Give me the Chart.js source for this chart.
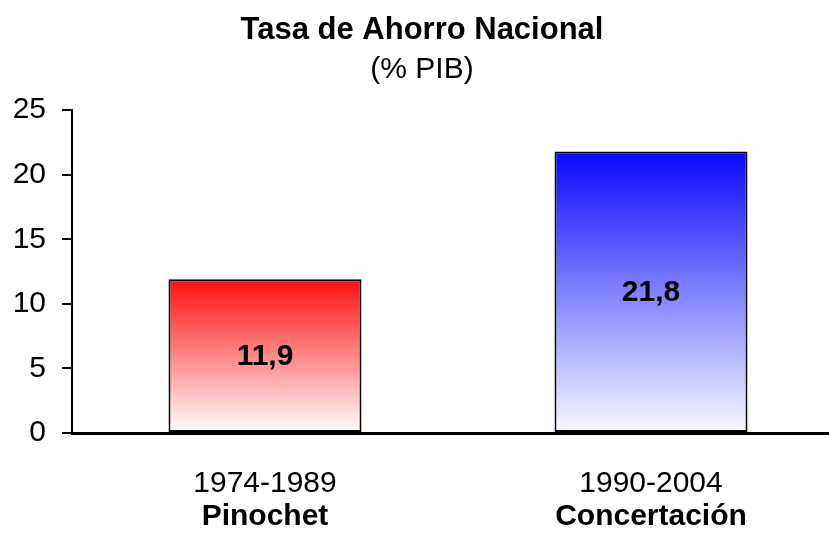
<!DOCTYPE html>
<html>
<head>
<meta charset="utf-8">
<script src="https://cdn.jsdelivr.net/npm/chart.js@4.4.0/dist/chart.umd.min.js"></script>
<style>
  html, body { margin: 0; padding: 0; background: #fff; overflow: hidden; }
  #wrap { width: 829px; height: 536px; overflow: hidden; position: relative; }
  #c { position: absolute; left: 0; top: 0; }
</style>
</head>
<body>
<div id="wrap"><canvas id="c" width="845" height="536"></canvas></div>
<script>
const categories = ['1974-1989', '1990-2004'];
const groups = ['Pinochet', 'Concertación'];
const values = [11.9, 21.8];
const valueLabels = ['11,9', '21,8'];
const yTicks = [0, 5, 10, 15, 20, 25];
const titleText = 'Tasa de Ahorro Nacional';
const subtitleText = '(% PIB)';

const FONT = "'Liberation Sans', Arial, sans-serif";
const topColors = ['rgb(255,16,16)', 'rgb(8,8,255)'];
const bottomColors = ['rgb(255,255,255)', 'rgb(250,250,255)'];

function barGradient(ctx) {
  const chart = ctx.chart;
  const area = chart.chartArea;
  if (!area) return topColors[ctx.dataIndex];
  const y = chart.scales.y;
  const top = y.getPixelForValue(values[ctx.dataIndex]);
  const bottom = y.getPixelForValue(0);
  const g = chart.ctx.createLinearGradient(0, top, 0, bottom);
  g.addColorStop(0, topColors[ctx.dataIndex]);
  g.addColorStop(1, bottomColors[ctx.dataIndex]);
  return g;
}

const valueLabelPlugin = {
  id: 'valueLabels',
  afterDatasetsDraw(chart) {
    const meta = chart.getDatasetMeta(0);
    const c = chart.ctx;
    c.save();
    c.font = "bold 30px " + FONT;
    c.fillStyle = '#000';
    c.textAlign = 'center';
    c.textBaseline = 'middle';
    meta.data.forEach((bar, i) => {
      c.fillText(valueLabels[i], bar.x, (bar.y + bar.base) / 2 + 1);
    });
    c.restore();
  }
};

new Chart(document.getElementById('c'), {
  type: 'bar',
  data: {
    labels: categories,
    datasets: [{
      data: values,
      backgroundColor: barGradient,
      borderColor: '#000',
      borderWidth: 2,
      borderSkipped: false,
      barPercentage: 1,
      categoryPercentage: 0.5,
      xAxisID: 'x',
      yAxisID: 'y'
    }]
  },
  options: {
    responsive: false,
    animation: false,
    devicePixelRatio: 1,
    layout: { padding: { left: 0, right: 1, top: 0, bottom: 0 } },
    plugins: {
      legend: { display: false },
      tooltip: { enabled: false },
      title: {
        display: true,
        text: titleText,
        color: '#000',
        font: { family: FONT, size: 31, weight: 'bold', lineHeight: 1.2 },
        padding: { top: 12, bottom: 2 }
      },
      subtitle: {
        display: true,
        text: subtitleText,
        color: '#000',
        font: { family: FONT, size: 30, weight: 'normal', lineHeight: 1.2 },
        padding: { top: 1, bottom: 22 }
      }
    },
    scales: {
      y: {
        min: 0,
        max: 25,
        afterBuildTicks(scale) { scale.ticks = yTicks.map(v => ({ value: v })); },
        afterFit(scale) { scale.width = 72; },
        ticks: {
          color: '#000',
          font: { family: FONT, size: 30 },
          padding: 16
        },
        grid: {
          display: true,
          drawOnChartArea: false,
          drawTicks: true,
          tickLength: 10,
          color: '#000',
          lineWidth: 2
        },
        border: { display: true, color: '#000', width: 2 }
      },
      x: {
        type: 'category',
        position: 'bottom',
        weight: 1,
        offset: true,
        afterFit(scale) { scale.height = 65; },
        ticks: {
          color: '#000',
          font: { family: FONT, size: 30 },
          padding: 33,
          maxRotation: 0
        },
        grid: { display: false, drawTicks: false },
        border: { display: true, color: '#000', width: 3 }
      },
      x2: {
        type: 'category',
        position: 'bottom',
        weight: 2,
        offset: true,
        labels: groups,
        afterFit(scale) { scale.height = 38; },
        ticks: {
          color: '#000',
          font: { family: FONT, size: 30, weight: 'bold' },
          padding: 1,
          maxRotation: 0
        },
        grid: { display: false, drawTicks: false },
        border: { display: false }
      }
    }
  },
  plugins: [valueLabelPlugin]
});
</script>
</body>
</html>
